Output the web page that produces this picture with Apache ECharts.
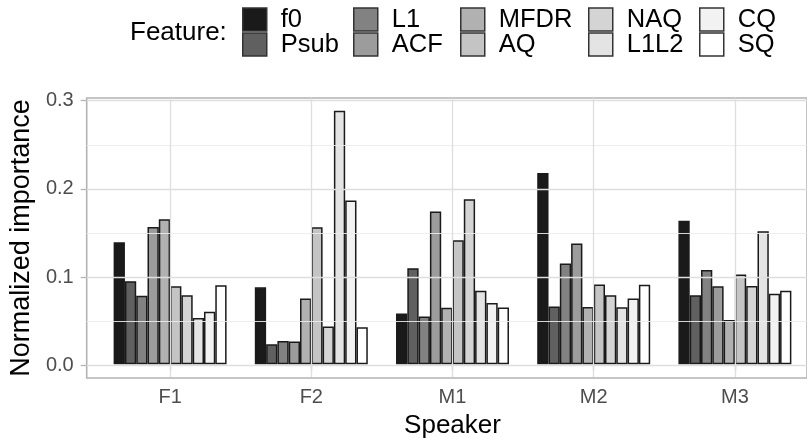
<!DOCTYPE html>
<html>
<head>
<meta charset="utf-8">
<script src="https://cdn.jsdelivr.net/npm/echarts@6/dist/echarts.min.js"></script>
<style>
html,body{margin:0;padding:0;background:#fff;}
#chart{width:807px;height:444px;}
</style>
</head>
<body>
<div id="chart"></div>
<script>
// ---- data ----
const speakers = ['F1', 'F2', 'M1', 'M2', 'M3'];
const features = ['f0', 'Psub', 'L1', 'ACF', 'MFDR', 'AQ', 'NAQ', 'L1L2', 'CQ', 'SQ'];
const f0   = [0.139, 0.0876, 0.0579, 0.2177, 0.1635];
const psub = [0.0947, 0.0229, 0.1094, 0.0657, 0.0786];
const l1   = [0.0782, 0.0267, 0.0545, 0.1147, 0.1075];
const acf  = [0.1564, 0.0259, 0.174, 0.1376, 0.0888];
const mfdr = [0.165, 0.075, 0.0643, 0.0654, 0.0504];
const aq   = [0.0888, 0.156, 0.1413, 0.091, 0.1023];
const naq  = [0.0786, 0.0432, 0.188, 0.0786, 0.0891];
const l1l2 = [0.0527, 0.2887, 0.0838, 0.0651, 0.1515];
const cq   = [0.0598, 0.1864, 0.0699, 0.0748, 0.0804];
const sq   = [0.0899, 0.0421, 0.0646, 0.0906, 0.0838];
const featureValues = [f0, psub, l1, acf, mfdr, aq, naq, l1l2, cq, sq];
const yTicks = [0, 0.1, 0.2, 0.3];
const yMinorTicks = [0.05, 0.15, 0.25];
const yMin = -0.0144, yMax = 0.3031;

// ---- styles / layout ----
const fillColors = ['#1a1a1a', '#606060', '#828282', '#9c9c9c', '#b1b1b1',
                    '#c4c4c4', '#d4d4d4', '#e4e4e4', '#f2f2f2', '#ffffff'];
const FONT = '"Liberation Sans", Arial, sans-serif';
const legendColX = [242, 353, 460, 588, 699];
const legendRowTop = [6.5, 31.5];

const chart = echarts.init(document.getElementById('chart'), null, {renderer: 'canvas'});

const legends = features.map((f, i) => ({
  data: [f],
  left: legendColX[Math.floor(i / 2)],
  top: legendRowTop[i % 2],
  padding: 0,
  itemWidth: 24,
  itemHeight: 23,
  icon: 'rect',
  selectedMode: false,
  itemStyle: {borderColor: '#333333', borderWidth: 1.5},
  textStyle: {fontSize: 25.5, color: '#000', fontFamily: FONT, padding: [0, 0, 0, 9]}
}));

const barSeries = features.map((f, i) => ({
  name: f,
  type: 'bar',
  xAxisIndex: 1,
  yAxisIndex: 1,
  data: featureValues[i],
  barGap: '0%',
  barCategoryGap: '20%',
  z: 3,
  itemStyle: {color: fillColors[i], borderColor: '#1a1a1a', borderWidth: 1.5},
  emphasis: {disabled: true}
}));

const option = {
  animation: false,
  backgroundColor: '#ffffff',
  textStyle: {fontFamily: FONT},
  title: {
    text: 'Feature:',
    left: 130,
    top: 18,
    padding: 0,
    textStyle: {fontSize: 26, fontWeight: 'normal', color: '#000', fontFamily: FONT, lineHeight: 30}
  },
  legend: legends,
  grid: [
    {left: 86, top: 98, width: 734, height: 280, show: true,
     borderColor: '#b3b3b3', borderWidth: 1.6, backgroundColor: 'transparent'},
    {left: 99.5, top: 98, width: 706, height: 280}
  ],
  xAxis: [
    {type: 'value', gridIndex: 0, min: 0, max: 1, show: false},
    {type: 'category', gridIndex: 1, data: speakers,
     axisLine: {show: false},
     axisTick: {show: true, alignWithLabel: true, length: 6, lineStyle: {color: '#b3b3b3', width: 1.3}},
     axisLabel: {fontSize: 20, color: '#4d4d4d', margin: 10, fontFamily: FONT},
     splitLine: {show: false},
     name: 'Speaker', nameLocation: 'middle', nameGap: 36,
     nameTextStyle: {fontSize: 26, color: '#000', fontFamily: FONT}}
  ],
  yAxis: [
    {type: 'value', gridIndex: 0, min: yMin, max: yMax,
     axisLine: {show: false},
     axisTick: {show: true, length: 6, customValues: yTicks, lineStyle: {color: '#b3b3b3', width: 1.3}},
     axisLabel: {customValues: yTicks, fontSize: 20, color: '#4d4d4d', margin: 13, fontFamily: FONT,
                 formatter: v => Number(v).toFixed(1)},
     splitLine: {show: false},
     name: 'Normalized importance', nameLocation: 'middle', nameGap: 47,
     nameTextStyle: {fontSize: 27, color: '#000', fontFamily: FONT}},
    {type: 'value', gridIndex: 1, min: yMin, max: yMax, show: false}
  ],
  series: [
    {
      name: '_hgrid', type: 'line', xAxisIndex: 0, yAxisIndex: 0, data: [], z: 1, silent: true,
      markLine: {
        silent: true, symbol: ['none', 'none'], label: {show: false}, animation: false,
        data: [
          ...yMinorTicks.map(v => ({yAxis: v, lineStyle: {color: '#ebebeb', width: 0.9, type: 'solid'}})),
          ...yTicks.map(v => ({yAxis: v, lineStyle: {color: '#dedede', width: 1.3, type: 'solid'}}))
        ]
      }
    },
    {
      name: '_vgrid', type: 'line', xAxisIndex: 1, yAxisIndex: 1, data: [], z: 1, silent: true,
      markLine: {
        silent: true, symbol: ['none', 'none'], label: {show: false}, animation: false,
        data: speakers.map(s => ({xAxis: s, lineStyle: {color: '#dedede', width: 1.3, type: 'solid'}}))
      }
    },
    ...barSeries
  ]
};
chart.setOption(option);
</script>
</body>
</html>
